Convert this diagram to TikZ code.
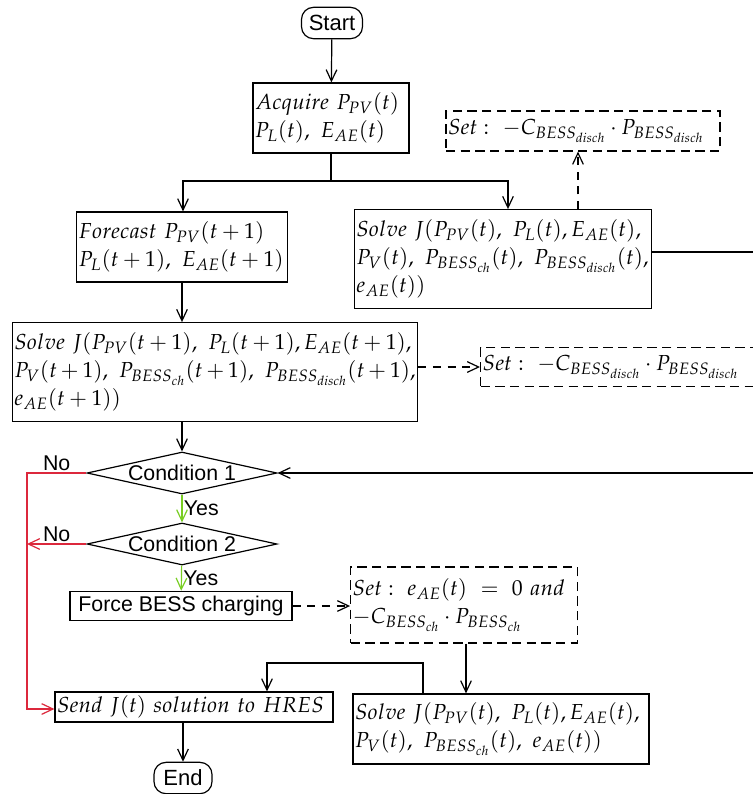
\documentclass[tikz,border=0pt]{standalone}
\usepackage{mathpazo}
\usepackage[no-math]{fontspec}
\setsansfont{Liberation Sans}
\usetikzlibrary{shapes.geometric,arrows.meta}

\definecolor{nored}{RGB}{220,40,60}
\definecolor{yesgreen}{RGB}{120,205,35}

\tikzset{every picture/.style={line width=0.9pt}}

\begin{document}
\begin{tikzpicture}[x=0.75pt,y=0.75pt,yscale=-1,xscale=1,
	>={Straight Barb[length=8.5pt,width=8pt]},
	mbox/.style={draw,align=left,inner xsep=1.5pt,inner ysep=2pt,font=\fontsize{16.3}{21}\selectfont},
	setbox/.style={mbox,dash pattern={on 7pt off 4pt}},
	dashline/.style={dash pattern={on 6pt off 5pt}},
	term/.style={draw,rounded corners=9pt,inner sep=2pt,minimum height=23.5pt,font=\sffamily\fontsize{16.5}{18}\selectfont},
	sbox/.style={draw,inner sep=2pt,font=\sffamily\fontsize{16}{18}\selectfont},
	cond/.style={draw,diamond,aspect=4.5,inner sep=-1pt,minimum width=142.5pt,minimum height=31.5pt,font=\sffamily\fontsize{16}{18}\selectfont},
	lbl/.style={inner sep=1pt,font=\sffamily\fontsize{16}{18}\selectfont}]
	\useasboundingbox (0,0) rectangle (753,794);
	
	% Terminals
	\node (start) at (332,23) [term,minimum width=45.75pt] {Start};
	\node (end) at (183,778) [term,minimum width=43.5pt] {End};
	
	% Text Node
	\node (acq) at (331,118) [mbox,text width=114pt,minimum height=52.5pt] {$Acquire\ P_{PV}(t)$\\$P_L(t),\ E_{AE}(t)$};
	% Text Node
	\node (fc) at (182,247) [mbox,text width=155pt,minimum height=52.5pt] {$Forecast\ P_{PV}(t+1)$\\$P_L(t+1),\ E_{AE}(t+1)$};
	% Text Node
	\node (sol1) at (503,259) [mbox,text width=220pt,minimum height=74pt] {$Solve\ J(P_{PV}(t),\ P_L(t),E_{AE}(t),$\\$P_V(t),\ P_{BESS_{ch}}(t),\ P_{BESS_{disch}}(t),$\\$e_{AE}(t))$};
	% Text Node
	\node (set1) at (583,131) [setbox,text width=202.5pt,minimum height=30pt] {$Set:\ -C_{BESS_{disch}}\cdot P_{BESS_{disch}}$};
	% Text Node
	\node (sol2) at (215,372) [mbox,text width=301pt,minimum height=74pt] {$Solve\ J(P_{PV}(t+1),\ P_L(t+1),E_{AE}(t+1),$\\$P_V(t+1),\ P_{BESS_{ch}}(t+1),\ P_{BESS_{disch}}(t+1),$\\$e_{AE}(t+1))$};
	% Text Node
	\node (set2) at (480,367) [setbox,anchor=west,text width=202.5pt,minimum height=29pt] {$Set:\ -C_{BESS_{disch}}\cdot P_{BESS_{disch}}$};
	
	% Decisions
	\node (cond1) at (182,473) [cond] {Condition 1};
	\node (cond2) at (182,544) [cond] {Condition 2};
	
	% Text Node
	\node (force) at (181,606) [sbox,minimum width=166.5pt,minimum height=22pt] {Force BESS charging};
	% Text Node
	\node (set3) at (464,605) [setbox,text width=167pt,minimum height=57pt] {$Set:\ e_{AE}(t)\ =\ 0\ and$\\$-C_{BESS_{ch}}\cdot P_{BESS_{ch}}$};
	% Text Node
	\node (sol3) at (501,729) [mbox,text width=219pt,minimum height=52.5pt] {$Solve\ J(P_{PV}(t),\ P_L(t),E_{AE}(t),$\\$P_V(t),\ P_{BESS_{ch}}(t),\ e_{AE}(t))$};
	% Text Node
	\node (send) at (194,707) [mbox,text width=205.5pt,minimum height=22.5pt] {$Send\ J(t)\ solution\ to\ HRES$};
	
	\coordinate (split) at (331,181);
	\coordinate (fbr) at (790,300);
	\coordinate (rail) at (27,473);
	\coordinate (bend) at (267,663);
	
	% Straight Lines
	\draw[->] (start) -- (acq);
	\draw (acq) -- (split);
	\draw[->] (split) -| ([xshift=0.75pt]fc.north);
	\draw[->] (split) -| ([xshift=3.75pt]sol1.north);
	\draw[->] (fc.south) -- (fc.south |- sol2.north);
	\draw[->,dashline] ([xshift=-3.75pt]set1.south |- sol1.north) -- ([xshift=-3.75pt]set1.south);
	\draw[->,dashline] (set2.west -| sol2.east) -- (set2.west);
	\draw[->] ([yshift=-5.25pt]sol1.east) -| (fbr) |- (cond1.east);
	\draw[->] (cond1.north |- sol2.south) -- (cond1.north);
	
	% Yes / No branches
	\draw[->,yesgreen] (cond1) -- node[right,lbl,black] {Yes} (cond2);
	\draw[->,yesgreen] (cond2) -- node[right,lbl,black] {Yes} (force);
	\draw[->,nored] (cond1.west) -- node[above,lbl,black] {No} (rail) |- ([yshift=1.5pt]send.west);
	\draw[->,nored] (cond2.west) -- node[above,lbl,black] {No} (cond2.west -| rail);
	
	\draw[->,dashline] (force.east) -- (force.east -| set3.west);
	\draw[->] ([xshift=1.5pt]set3.south) -- ([xshift=1.5pt]set3.south |- sol3.north);
	\draw[->] ([xshift=-58.5pt]sol3.north) |- (bend) -- (bend |- send.north);
	\draw[->] (end |- send.south) -- (end.north);
\end{tikzpicture}
\end{document}
